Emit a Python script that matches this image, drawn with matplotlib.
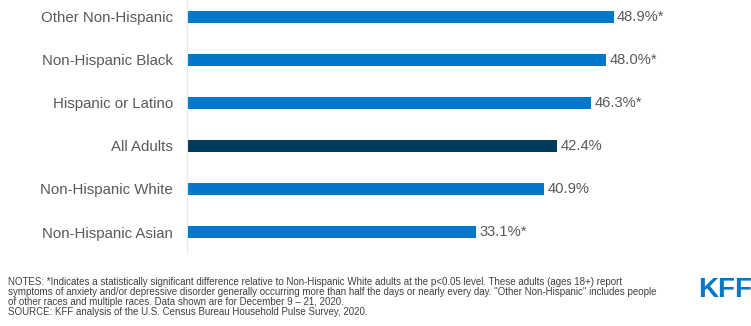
import matplotlib.pyplot as plt

groups = ["Other Non-Hispanic", "Non-Hispanic Black", "Hispanic or Latino",
          "All Adults", "Non-Hispanic White", "Non-Hispanic Asian"]
values = [48.9, 48.0, 46.3, 42.4, 40.9, 33.1]
stars = ["*", "*", "*", "", "", "*"]

notes = ('NOTES: *Indicates a statistically significant difference relative to Non-Hispanic White adults at the p<0.05 level. These adults (ages 18+) report\n'
         'symptoms of anxiety and/or depressive disorder generally occurring more than half the days or nearly every day. "Other Non-Hispanic" includes people\n'
         'of other races and multiple races. Data shown are for December 9 \u2013 21, 2020.\n'
         'SOURCE: KFF analysis of the U.S. Census Bureau Household Pulse Survey, 2020.')

blue = "#0077c8"
dark = "#003b5c"
grey = "#595959"

plt.rcParams['font.family'] = ['Liberation Sans', 'DejaVu Sans']

fig = plt.figure(figsize=(7.51, 3.26), dpi=100)
ax = fig.add_axes([187 / 751, 1 - 252 / 326, (711 - 187) / 751, 252 / 326])

colors = [dark if g == "All Adults" else blue for g in groups]
y = list(range(len(groups)))
ax.barh(y, values, height=0.30, color=colors)
ax.set_xlim(0, 60)
ax.set_ylim(5.465, -0.395)

for i, (v, s) in enumerate(zip(values, stars)):
    ax.text(v + 0.35, i, f"{v:.1f}%{s}", va="center", ha="left",
            fontsize=10.6, color=grey)

ax.set_yticks(y)
ax.set_yticklabels(groups, fontsize=10.8, color=grey)
ax.tick_params(axis="y", length=0, pad=10)
ax.set_xticks([])
for side in ["top", "right", "bottom"]:
    ax.spines[side].set_visible(False)
ax.spines["left"].set_color("#e6e6e6")
ax.spines["left"].set_linewidth(0.8)

fig.text(8 / 751, 1 - 277 / 326, notes, ha="left", va="top", fontsize=7.0,
         color="#404040", linespacing=0.98)
fig.text(752 / 751, 1 - 290 / 326, "KFF", ha="right", va="center",
         fontsize=20, fontweight="bold", color=blue)

fig.savefig("out.png", dpi=100)
